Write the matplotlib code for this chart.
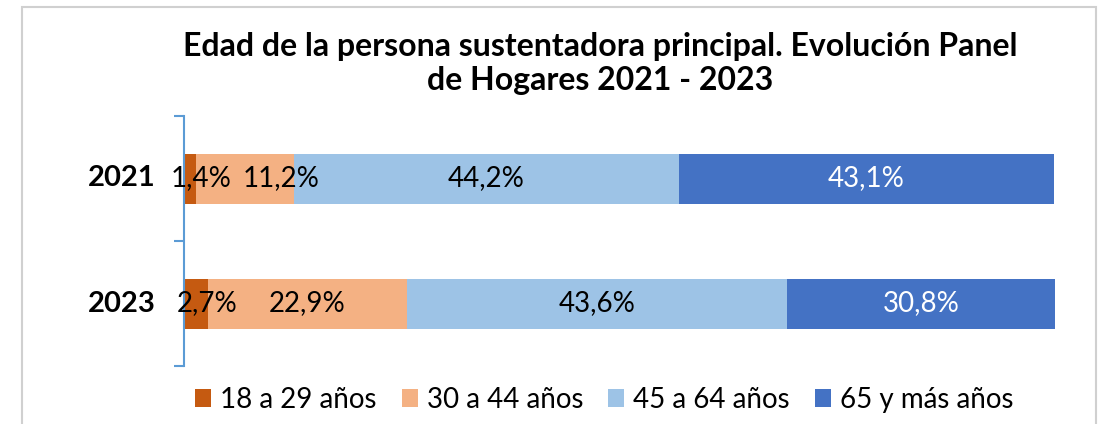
import matplotlib
matplotlib.use("Agg")
import matplotlib.pyplot as plt
from matplotlib.patches import Rectangle

years = ["2021", "2023"]
series = ["18 a 29 años", "30 a 44 años", "45 a 64 años", "65 y más años"]
values = {
    "18 a 29 años": [1.4, 2.7],
    "30 a 44 años": [11.2, 22.9],
    "45 a 64 años": [44.2, 43.6],
    "65 y más años": [43.1, 30.8],
}
colors = ["#C55A11", "#F4B183", "#9DC3E6", "#4472C4"]
label_colors = ["black", "black", "black", "white"]
# manual label nudges (pixels) per series per year
nudges = {
    "18 a 29 años": [11, 11],
    "30 a 44 años": [36, 0],
    "45 a 64 años": [0, 0],
    "65 y más años": [0, 0],
}
title = "Edad de la persona sustentadora principal. Evolución Panel\nde Hogares 2021 - 2023"

plt.rcParams["font.family"] = ["Lato", "DejaVu Sans"]

fig = plt.figure(figsize=(11.01, 4.24), dpi=100)
fig.patches.append(Rectangle((22 / 1101, -0.05), (1096 - 22) / 1101, 1.05 - 7 / 424,
                             transform=fig.transFigure, fill=False,
                             edgecolor="#D0D0D0", linewidth=1.5))
ax = fig.add_axes([184 / 1101, 1 - 366 / 424, (1055 - 184) / 1101, (366 - 116) / 424])

ypos = list(range(len(years)))
left = [0.0] * len(years)
handles = []
for s, c, lc in zip(series, colors, label_colors):
    vals = values[s]
    bars = ax.barh(ypos, vals, left=left, height=0.4, color=c, label=s)
    handles.append(bars)
    for i, (v, l) in enumerate(zip(vals, left)):
        ax.annotate(f"{v:.1f}".replace(".", ",") + "%", xy=(l + v / 2, ypos[i]),
                    xytext=(nudges[s][i] * 0.72, 0), textcoords="offset points",
                    ha="center", va="center", fontsize=20, color=lc)
    left = [a + b for a, b in zip(left, vals)]

ax.set_xlim(0, 100)
ax.set_ylim(1.5, -0.5)
ax.set_yticks([-0.5, 0.5, 1.5])
ax.set_yticklabels([])
ax.tick_params(axis="y", length=7, width=1.5, color="#5B9BD5", direction="out")
ax.set_xticks([])
for sp in ["top", "right", "bottom"]:
    ax.spines[sp].set_visible(False)
ax.spines["left"].set_color("#5B9BD5")
ax.spines["left"].set_linewidth(1.5)

for i, y in enumerate(years):
    ax.text(-0.033, ypos[i], y, transform=ax.get_yaxis_transform(),
            ha="right", va="center", fontsize=21, fontweight="bold")

fig.text(0.545, 0.851, title, ha="center", va="center", fontsize=23,
         fontweight="bold", linespacing=1.22)

fig.legend(handles=handles, labels=series, loc="center", bbox_to_anchor=(0.549, 0.057),
           ncol=4, frameon=False, fontsize=20, handlelength=0.58, handleheight=0.58,
           handletextpad=0.32, columnspacing=0.9, borderaxespad=0, borderpad=0)

fig.savefig("out.png", dpi=100)
